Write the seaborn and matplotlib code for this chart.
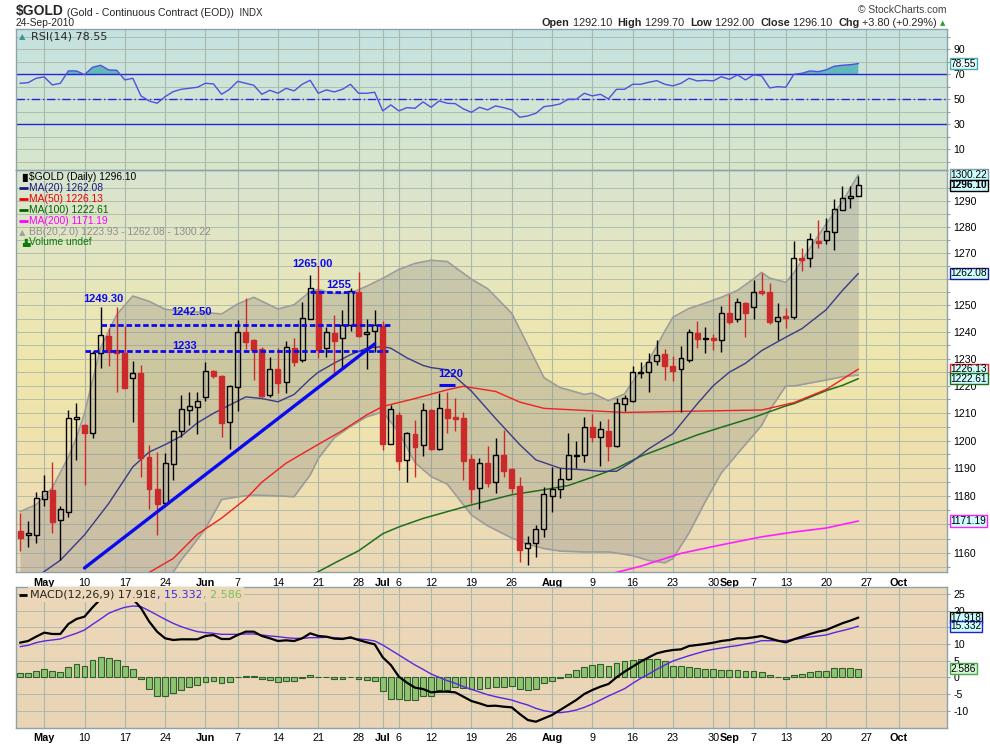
import numpy as np
import pandas as pd
import matplotlib
matplotlib.use("Agg")
import matplotlib.pyplot as plt
import matplotlib.transforms as mtrans
from matplotlib.colors import LinearSegmentedColormap
from matplotlib.ticker import FixedLocator, FuncFormatter, NullFormatter
import seaborn as sns

# ---------------- data ----------------
first_day, axis_end = "2010-04-28", "2010-10-01"
holidays = ["2010-05-31", "2010-07-05", "2010-09-06"]

opens = [1167.6, 1166.1, 1166.4, 1179.0, 1182.1, 1171.4, 1174.5, 1207.9, 1205.6, 1202.8,
         1232.2, 1238.4, 1233.2, 1232.0, 1223.0, 1224.8, 1193.9, 1182.5, 1177.4, 1191.4,
         1203.5, 1211.1, 1212.2, 1215.7, 1225.4, 1223.6, 1206.8, 1219.4, 1240.0, 1236.9,
         1233.5, 1216.6, 1226.2, 1221.2, 1233.9, 1229.5, 1244.8, 1255.5, 1233.9, 1239.5,
         1237.6, 1242.6, 1255.1, 1239.2, 1240.3, 1242.3, 1198.9, 1209.3, 1192.9, 1202.2,
         1198.3, 1211.1, 1196.9, 1211.6, 1208.4, 1208.0, 1193.3, 1183.0, 1191.7, 1185.2,
         1194.7, 1189.7, 1183.6, 1161.8, 1163.3, 1168.2, 1180.1, 1182.5, 1186.0, 1194.5,
         1194.7, 1204.8, 1201.4, 1203.5, 1198.1, 1213.2, 1214.5, 1224.6, 1224.9, 1229.2,
         1231.7, 1227.3, 1226.0, 1229.7, 1239.5, 1237.4, 1237.6, 1237.0, 1247.0, 1244.7,
         1251.0, 1249.5, 1255.4, 1254.9, 1244.1, 1245.8, 1245.5, 1267.8, 1267.8, 1274.6,
         1274.8, 1277.9, 1286.6, 1291.0, 1292.1]
highs = [1174.1, 1171.2, 1181.5, 1187.4, 1192.3, 1176.5, 1211.1, 1213.5, 1206.0, 1232.9,
         1249.3, 1241.3, 1249.2, 1242.2, 1229.1, 1227.7, 1198.3, 1195.9, 1195.4, 1203.8,
         1216.6, 1217.8, 1217.8, 1228.9, 1225.7, 1224.0, 1220.3, 1244.4, 1252.6, 1237.3,
         1234.5, 1230.7, 1234.1, 1236.7, 1237.6, 1251.4, 1261.4, 1265.0, 1241.7, 1246.3,
         1248.3, 1256.4, 1262.8, 1244.8, 1248.1, 1244.1, 1212.9, 1210.5, 1203.2, 1207.4,
         1213.6, 1211.3, 1217.4, 1217.8, 1215.4, 1210.5, 1195.0, 1193.5, 1198.0, 1200.8,
         1203.8, 1190.0, 1186.9, 1166.0, 1169.8, 1183.4, 1190.5, 1190.2, 1202.8, 1199.9,
         1208.6, 1209.5, 1207.1, 1207.7, 1215.4, 1216.6, 1227.3, 1228.7, 1232.0, 1236.9,
         1233.6, 1231.1, 1234.8, 1241.1, 1244.0, 1241.7, 1239.1, 1249.9, 1254.1, 1252.6,
         1251.4, 1259.6, 1262.1, 1258.6, 1250.8, 1248.9, 1274.4, 1271.9, 1277.4, 1282.6,
         1283.2, 1290.7, 1295.9, 1295.9, 1299.7]
lows = [1160.6, 1162.1, 1163.5, 1176.6, 1167.0, 1157.4, 1172.7, 1192.9, 1184.0, 1201.0,
        1226.7, 1227.3, 1217.8, 1219.3, 1206.8, 1186.9, 1175.6, 1166.4, 1177.1, 1185.7,
        1201.4, 1205.8, 1202.2, 1214.4, 1222.7, 1201.4, 1197.1, 1210.7, 1233.5, 1222.1,
        1215.7, 1215.7, 1217.2, 1217.4, 1227.3, 1228.9, 1244.8, 1230.3, 1230.7, 1224.6,
        1227.0, 1240.3, 1238.2, 1226.2, 1232.6, 1196.5, 1198.6, 1189.3, 1184.9, 1186.9,
        1194.5, 1196.5, 1196.5, 1202.6, 1203.4, 1185.7, 1177.4, 1175.6, 1183.4, 1181.0,
        1186.9, 1181.0, 1156.9, 1155.7, 1158.6, 1165.6, 1174.5, 1179.4, 1185.7, 1190.2,
        1192.3, 1199.4, 1190.9, 1192.7, 1197.5, 1210.7, 1214.1, 1222.7, 1217.8, 1227.7,
        1222.3, 1221.7, 1210.2, 1228.9, 1234.1, 1232.0, 1233.2, 1232.6, 1242.8, 1243.8,
        1237.9, 1244.7, 1253.9, 1242.8, 1237.0, 1241.3, 1244.8, 1263.0, 1264.7, 1271.9,
        1273.3, 1271.1, 1286.6, 1287.1, 1292.0]
closes = [1165.3, 1166.8, 1179.3, 1181.8, 1170.9, 1175.4, 1208.0, 1208.4, 1202.6, 1232.2,
          1238.7, 1232.5, 1232.2, 1219.3, 1224.8, 1193.5, 1182.5, 1177.1, 1191.7, 1203.5,
          1211.3, 1212.4, 1214.4, 1225.4, 1223.5, 1206.5, 1220.0, 1240.1, 1236.3, 1233.2,
          1216.3, 1226.2, 1221.1, 1234.2, 1228.9, 1245.1, 1256.4, 1233.2, 1239.8, 1236.7,
          1242.6, 1255.5, 1238.6, 1240.1, 1242.6, 1198.6, 1211.3, 1192.6, 1202.6, 1197.7,
          1211.1, 1196.9, 1211.9, 1208.2, 1207.8, 1192.7, 1182.5, 1191.7, 1184.8, 1194.7,
          1189.0, 1183.0, 1160.9, 1163.3, 1168.2, 1180.6, 1182.4, 1186.0, 1194.7, 1194.8,
          1205.0, 1201.1, 1204.2, 1198.1, 1213.8, 1215.4, 1224.9, 1225.0, 1228.9, 1231.4,
          1227.4, 1225.5, 1230.1, 1239.8, 1237.2, 1237.6, 1236.9, 1247.0, 1243.8, 1251.1,
          1247.0, 1255.1, 1254.8, 1243.6, 1245.7, 1245.1, 1267.8, 1267.2, 1275.1, 1273.9,
          1278.4, 1287.0, 1291.0, 1292.1, 1296.1]

rsi = [62.8, 63.3, 66.8, 67.9, 61.5, 62.8, 72.7, 72.7, 69.7, 75.6,
       77.2, 73.5, 73.2, 65.5, 66.8, 52.7, 48.7, 46.8, 52.1, 56.1,
       58.0, 58.8, 59.6, 62.8, 62.3, 54.0, 58.0, 64.4, 62.8, 61.2,
       54.0, 57.2, 54.8, 58.8, 56.7, 62.0, 65.2, 54.8, 57.5, 55.9,
       58.0, 62.0, 54.8, 54.8, 55.6, 40.7, 45.5, 40.7, 43.3, 42.8,
       47.9, 43.6, 48.7, 46.8, 46.5, 42.3, 39.6, 43.6, 41.5, 44.7,
       43.3, 41.5, 35.6, 36.7, 38.8, 44.1, 44.9, 46.3, 50.0, 50.0,
       54.8, 52.7, 54.0, 50.3, 58.0, 58.0, 62.0, 62.0, 63.6, 64.9,
       62.0, 60.7, 62.8, 66.8, 64.7, 65.2, 64.7, 68.1, 66.0, 69.5,
       65.5, 69.5, 68.7, 59.1, 60.1, 59.6, 70.0, 70.8, 72.7, 72.1,
       73.5, 76.4, 77.2, 77.7, 78.55]

macd = [10.4, 10.9, 12.2, 13.4, 13.0, 13.0, 16.0, 17.5, 18.2, 21.0,
        23.5, 24.9, 25.4, 24.3, 23.5, 20.8, 16.8, 13.7, 11.7, 11.2,
        11.4, 11.4, 11.4, 12.4, 12.7, 11.5, 11.5, 12.7, 13.7, 13.7,
        12.4, 11.7, 10.9, 11.1, 10.9, 11.7, 13.2, 12.4, 12.2, 11.6,
        11.5, 12.0, 11.2, 10.5, 9.9, 6.0, 3.7, 0.2, -1.6, -3.1,
        -3.5, -4.5, -4.3, -4.3, -4.5, -5.8, -7.1, -7.8, -8.6, -8.5,
        -8.8, -9.0, -11.0, -12.8, -13.3, -12.3, -11.3, -9.8, -8.3, -6.8,
        -5.0, -3.8, -2.8, -2.0, 0.0, 1.7, 3.2, 4.7, 6.0, 7.2,
        7.8, 8.2, 8.4, 9.4, 9.7, 10.0, 10.4, 10.9, 11.2, 11.7,
        11.7, 12.0, 12.4, 11.7, 11.0, 10.5, 11.4, 12.2, 13.0, 13.7,
        14.2, 15.2, 16.2, 17.0, 17.918]
signal = [9.2, 9.6, 10.4, 10.9, 11.2, 11.5, 12.4, 13.2, 14.2, 15.9,
          17.5, 19.2, 20.2, 21.0, 21.4, 21.2, 20.0, 18.7, 17.4, 16.2,
          15.2, 14.4, 13.7, 13.4, 13.2, 12.9, 12.9, 12.9, 13.0, 13.0,
          12.7, 12.4, 12.2, 11.9, 11.7, 11.7, 11.9, 11.9, 12.0, 11.9,
          11.7, 11.7, 11.5, 11.3, 10.9, 9.7, 8.2, 6.7, 5.2, 3.7,
          2.4, 1.0, 0.0, -1.0, -1.8, -2.8, -3.6, -4.4, -5.2, -5.8,
          -6.3, -6.8, -7.6, -8.3, -9.3, -10.0, -10.4, -10.6, -10.3, -9.8,
          -9.0, -8.0, -6.8, -5.6, -4.5, -3.4, -1.8, -0.3, 1.0, 2.4,
          3.7, 4.9, 5.7, 6.5, 7.2, 7.9, 8.4, 8.8, 9.2, 9.5,
          10.0, 10.4, 11.0, 11.0, 11.0, 11.0, 11.4, 11.7, 12.1, 12.4,
          12.7, 13.4, 14.0, 14.6, 15.332]
hist = [1.2, 1.2, 1.9, 2.4, 1.9, 1.5, 3.0, 3.9, 3.5, 5.2,
        6.0, 5.7, 5.2, 3.3, 2.4, -0.6, -3.6, -5.6, -5.6, -4.8,
        -3.8, -3.0, -2.4, -1.5, -1.0, -1.8, -1.5, 0.0, 0.5, 0.5,
        -0.6, -0.8, -1.3, -1.0, -1.0, -0.3, 0.8, 0.0, 0.0, -0.5,
        -0.5, 0.2, -0.5, -0.8, -1.1, -4.1, -6.5, -6.6, -6.8, -6.8,
        -5.6, -5.6, -3.8, -3.8, -2.8, -3.3, -3.6, -3.6, -3.3, -2.8,
        -3.0, -2.6, -3.5, -3.8, -3.5, -1.8, -1.1, -0.1, 1.0, 2.2,
        3.2, 3.6, 4.1, 3.5, 4.2, 5.0, 5.2, 5.4, 5.4, 5.5,
        4.8, 3.5, 3.5, 3.2, 2.7, 2.4, 2.4, 2.2, 2.2, 2.2,
        1.9, 1.9, 1.5, 0.6, 0.2, -0.6, 0.6, 0.9, 1.6, 1.9,
        1.9, 2.7, 2.7, 2.7, 2.586]

# overlays, sampled at trading-day numbers (0 = 28 Apr)
ma20_day = [0, 2, 5, 8, 11, 14, 16, 18, 20, 22, 24, 26, 28, 30, 32, 34, 36, 37, 39, 41,
            43, 45, 46, 48, 50, 51, 53, 56, 59, 62, 64, 67, 70, 72, 74, 76, 78, 81, 84, 86,
            88, 90, 92, 95, 97, 100, 102, 104]
ma20 = [1146.0, 1151.5, 1157.4, 1166.3, 1177.4, 1190.5, 1195.8, 1198.5, 1201.6, 1206.4,
        1209.9, 1212.9, 1215.9, 1215.3, 1214.1, 1216.8, 1222.5, 1225.0, 1228.4, 1231.5,
        1233.9, 1234.5, 1233.9, 1230.3, 1227.5, 1226.7, 1225.9, 1218.0, 1208.0, 1198.5,
        1193.0, 1190.0, 1189.4, 1188.9, 1188.9, 1192.5, 1197.0, 1202.5, 1213.3, 1220.0,
        1225.0, 1228.3, 1233.0, 1238.0, 1241.2, 1248.3, 1255.5, 1262.08]
ma50_day = [13, 15, 19, 22, 25, 28, 30, 33, 37, 40, 43, 45, 49, 53, 55, 59, 62, 65, 69,
            75, 80, 84, 88, 92, 96, 100, 104]
ma50 = [1147.5, 1151.5, 1158.0, 1166.5, 1172.2, 1179.0, 1185.0, 1191.8, 1198.6, 1203.6,
        1209.3, 1212.4, 1215.3, 1218.5, 1219.8, 1217.9, 1214.0, 1211.7, 1211.1, 1210.2,
        1210.5, 1210.7, 1210.9, 1211.1, 1213.8, 1218.6, 1226.13]
ma100_day = [35, 37, 39, 42, 45, 47, 50, 53, 56, 61, 65, 68, 71, 74, 77, 81, 84, 87, 91,
             93, 95, 96, 100, 102, 104]
ma100 = [1151.0, 1153.4, 1156.4, 1160.7, 1166.7, 1169.1, 1172.1, 1174.5, 1176.9, 1180.5,
         1182.3, 1183.8, 1186.8, 1190.0, 1194.3, 1198.7, 1202.0, 1204.8, 1208.4, 1210.5,
         1212.6, 1213.4, 1218.2, 1220.1, 1222.61]
ma200_day = [72, 74, 77, 82, 87, 92, 96, 100, 104]
ma200 = [1151.5, 1153.2, 1155.3, 1159.8, 1162.8, 1165.6, 1167.3, 1168.7, 1171.19]

bb_day = [0, 2, 4, 6, 7, 8, 10, 12, 14, 16, 18, 20, 21, 23, 25, 27, 29, 32, 34, 36, 37,
          39, 41, 43, 45, 47, 49, 51, 53, 56, 58, 61, 63, 65, 67, 68, 70, 71, 73, 75, 76,
          78, 80, 81, 83, 85, 87, 89, 91, 92, 93, 95, 96, 98, 100, 102, 104]
bb_upper = [1174.5, 1177.0, 1183.0, 1194.0, 1201.0, 1210.0, 1234.0, 1246.5, 1253.5, 1251.5,
            1248.5, 1247.8, 1247.6, 1247.3, 1246.7, 1250.5, 1253.0, 1248.6, 1250.2, 1255.2,
            1256.0, 1254.4, 1254.6, 1257.2, 1260.2, 1263.6, 1265.9, 1267.1, 1266.6, 1259.9,
            1256.3, 1247.0, 1235.0, 1223.0, 1219.3, 1218.5, 1216.8, 1217.3, 1214.5, 1217.0,
            1221.5, 1229.3, 1240.3, 1245.5, 1248.8, 1250.8, 1253.0, 1255.6, 1260.0, 1262.5,
            1260.3, 1258.7, 1262.3, 1271.7, 1281.0, 1289.6, 1300.22]
bb_lower = [1128.0, 1129.0, 1130.0, 1128.0, 1127.0, 1126.0, 1125.0, 1127.0, 1133.0, 1141.0,
            1149.0, 1157.5, 1161.0, 1168.5, 1178.8, 1179.8, 1180.4, 1180.1, 1179.8, 1187.6,
            1193.5, 1201.0, 1205.1, 1208.6, 1210.4, 1203.0, 1192.0, 1187.0, 1184.3, 1173.3,
            1169.5, 1165.2, 1163.0, 1161.5, 1160.6, 1160.5, 1160.3, 1160.3, 1160.3, 1159.5,
            1159.0, 1157.3, 1156.5, 1158.0, 1167.0, 1178.0, 1188.3, 1195.2, 1202.0, 1205.5,
            1211.0, 1219.9, 1219.9, 1221.0, 1222.1, 1223.3, 1223.93]

tick_dates = ["2010-05-03", "2010-05-10", "2010-05-17", "2010-05-24", "2010-06-01",
              "2010-06-07", "2010-06-14", "2010-06-21", "2010-06-28", "2010-07-01",
              "2010-07-06", "2010-07-12", "2010-07-19", "2010-07-26", "2010-08-02",
              "2010-08-09", "2010-08-16", "2010-08-23", "2010-08-30", "2010-09-01",
              "2010-09-07", "2010-09-13", "2010-09-20", "2010-09-27", "2010-10-01"]
tick_labels = ["May", "10", "17", "24", "Jun", "7", "14", "21", "28", "Jul", "6", "12",
               "19", "26", "Aug", "9", "16", "23", "30", "Sep", "7", "13", "20", "27", "Oct"]
month_names = {"May", "Jun", "Jul", "Aug", "Sep", "Oct"}

price_ticks = [1160, 1180, 1190, 1200, 1210, 1220, 1230, 1240, 1250, 1270, 1280, 1290]
rsi_ticks = [10, 30, 50, 70, 90]
macd_ticks = [-10, -5, 0, 5, 10, 20, 25]

# hand-drawn support/resistance marks: (level, from day, to day)
dashed_levels = [(1242.5, 10, 46), (1233.0, 8, 45.6), (1255.0, 36, 41.6)]
level_notes = [("1249.30", 10.3, 1252.3), ("1242.50", 21.3, 1247.6), ("1233", 20.4, 1234.7),
               ("1265.00", 36.3, 1265.6), ("1255", 39.5, 1257.8), ("1220", 53.4, 1224.4)]
trend_day = [8, 44]
trend_val = [1154.7, 1235.5]

# ---------------- layout ----------------
days = pd.bdate_range(first_day, axis_end)
days = days[~days.isin(pd.to_datetime(holidays))]
day_no = {d.strftime("%Y-%m-%d"): i for i, d in enumerate(days)}
tick_pos = [day_no[d] for d in tick_dates]
x = np.arange(len(closes))

sns.set_theme(style="white")
plt.rcParams["font.family"] = ["Liberation Sans", "DejaVu Sans"]

fig = plt.figure(figsize=(9.9, 7.44), dpi=100)
W, H = 990, 744
GRID = "#a8b8aa"
EDGE = "#8ea2a8"


def rect(top, bottom):
    return [16 / W, 1 - bottom / H, 931 / W, (bottom - top) / H]


def panel(r, colors, labels=True):
    bg = fig.add_axes(r, zorder=0)
    cmap = LinearSegmentedColormap.from_list("bg", colors)
    bg.imshow(np.linspace(0, 1, 256)[:, None], cmap=cmap, aspect="auto", extent=(0, 1, 0, 1))
    bg.set_axis_off()
    ax = fig.add_axes(r, zorder=1)
    ax.set_facecolor("none")
    for s in ax.spines.values():
        s.set_color(EDGE)
        s.set_linewidth(1.0)
    ax.set_xlim(-0.5, 115)
    ax.xaxis.set_major_locator(FixedLocator(tick_pos))
    ax.xaxis.set_minor_locator(FixedLocator(range(len(days))))
    ax.set_xticklabels(tick_labels if labels else [])
    for t in ax.get_xticklabels():
        if t.get_text() in month_names:
            t.set_fontweight("bold")
    ax.grid(axis="x", which="major", color=GRID, lw=0.8)
    ax.grid(axis="y", which="both", color=GRID, lw=0.6)
    ax.yaxis.tick_right()
    ax.tick_params(axis="both", which="both", direction="out", colors=EDGE,
                   labelcolor="black", labelsize=7.6, length=2.5, width=0.8, pad=2)
    ax.tick_params(axis="x", which="major", labelbottom=labels, labelsize=7.8, pad=1.5)
    return ax


def tag(ax, y, text, edge, face="#ccfcfc", bold=False):
    tr = mtrans.blended_transform_factory(ax.transAxes, ax.transData)
    ax.text(1.004, y, text, transform=tr, ha="left", va="center", fontsize=7.3,
            fontweight="bold" if bold else "normal", color="black", zorder=10, clip_on=False,
            bbox=dict(boxstyle="square,pad=0.06", fc=face, ec=edge, lw=1))


def right_labels(ax, ticks, grid_ticks):
    ax.yaxis.set_major_locator(FixedLocator(grid_ticks))
    ax.yaxis.set_major_formatter(FuncFormatter(lambda v, p: f"{v:.0f}" if v in ticks else ""))


# ---------------- RSI ----------------
ax_rsi = panel(rect(29.3, 170), ["#c4e2e1", "#d0e5d6", "#d8e6cb"], labels=False)
ax_rsi.set_ylim(-6.6, 106)
ax_rsi.yaxis.set_major_locator(FixedLocator(rsi_ticks))
ax_rsi.yaxis.set_minor_locator(FixedLocator([0, 20, 40, 60, 80, 100]))
rsi_arr = np.array(rsi)
ax_rsi.fill_between(x, rsi_arr, 70, where=rsi_arr > 70, interpolate=True,
                    color="#62b9b9", lw=0, zorder=2)
for lev in (70, 30):
    ax_rsi.axhline(lev, color="#2424d8", lw=1.0, zorder=2)
ax_rsi.axhline(50, color="#2424d8", lw=1.0, ls=(0, (6, 2, 1, 2)), zorder=2)
sns.lineplot(x=x, y=rsi, ax=ax_rsi, color="#5050dc", linewidth=1.0, zorder=3)
ax_rsi.set(xlabel="", ylabel="")
ax_rsi.text(0.016, 0.952, "RSI(14) 78.55", transform=ax_rsi.transAxes, fontsize=8,
            va="center", ha="left", family=["DejaVu Sans"])
ax_rsi.text(0.0035, 0.952, "\u25b2", transform=ax_rsi.transAxes, fontsize=6,
            va="center", ha="left", color="#3a9a9a", family=["DejaVu Sans"])
tag(ax_rsi, 78.55, "78.55", "#3fb0b0", face="#e8fafa")

# ---------------- price ----------------
ax_px = panel(rect(170, 572), ["#d8e4d0", "#e6e6bf", "#f0e6aa", "#efe0b0", "#ebd8b8"])
ax_px.set_yscale("log")
ax_px.set_ylim(1153.3, 1302.1)
right_labels(ax_px, price_ticks, list(range(1160, 1300, 10)))
ax_px.yaxis.set_minor_locator(FixedLocator(list(range(1155, 1305, 10))))
ax_px.yaxis.set_minor_formatter(NullFormatter())

ax_px.fill_between(bb_day, bb_lower, bb_upper, color="#8a8a8a", alpha=0.33, lw=0, zorder=2)
for band in (bb_upper, bb_lower):
    sns.lineplot(x=bb_day, y=band, ax=ax_px, color="#9c9c9c", linewidth=1.2, zorder=2.5)
sns.lineplot(x=ma200_day, y=ma200, ax=ax_px, color="#ff20ff", linewidth=1.2, zorder=3)
sns.lineplot(x=ma100_day, y=ma100, ax=ax_px, color="#1e6e1e", linewidth=1.1, zorder=3)
sns.lineplot(x=ma50_day, y=ma50, ax=ax_px, color="#ee2020", linewidth=1.0, zorder=3)
sns.lineplot(x=ma20_day, y=ma20, ax=ax_px, color="#3a3a88", linewidth=1.0, zorder=3)
ax_px.set(xlabel="", ylabel="")

for i in x:
    o, h, l, c = opens[i], highs[i], lows[i], closes[i]
    up = c >= o
    col = "black" if up else "#cc2a2a"
    top, bot = max(o, c), min(o, c)
    ax_px.vlines(i, top, h, color=col, lw=1.0, zorder=4)
    ax_px.vlines(i, l, bot, color=col, lw=1.0, zorder=4)
    ax_px.bar(i, max(top - bot, 0.25), bottom=bot, width=0.62,
              facecolor="none" if up else "#cc2a2a", edgecolor=col, lw=1.0, zorder=5)

# drawn trend / level marks
BLUE = "#0a0aee"
sns.lineplot(x=trend_day, y=trend_val, ax=ax_px, color=BLUE, linewidth=2.4, zorder=6)
ax_px.set(xlabel="", ylabel="")
for lev, d0, d1 in dashed_levels:
    ax_px.hlines(lev, d0, d1, colors=BLUE, lw=2.0, linestyles=(0, (2, 1)), zorder=6)
ax_px.hlines(1220.3, 52, 54, colors=BLUE, lw=2.2, zorder=6)
for txt, d, v in level_notes:
    ax_px.text(d, v, txt, color=BLUE, fontsize=8, fontweight="bold", ha="center",
               va="center", zorder=7)

legend_rows = [("$GOLD (Daily) 1296.10", "black"), ("MA(20) 1262.08", "#1a1a80"),
               ("MA(50) 1226.13", "#ee0000"), ("MA(100) 1222.61", "#006400"),
               ("MA(200) 1171.19", "#ff00ff"),
               ("BB(20,2.0) 1223.93 - 1262.08 - 1300.22", "#8e8e8e"),
               ("Volume undef", "#0a7a0a")]
for j, (txt, col) in enumerate(legend_rows):
    yy = 1 - (7.3 + 11 * j - (1 if j == 6 else 0)) / 402
    ax_px.text(0.0145, yy, txt, transform=ax_px.transAxes, fontsize=7.4, color=col,
               va="center", ha="left", zorder=8)
    if j in (1, 2, 3, 4):
        ax_px.plot([0.0035, 0.0125], [yy, yy], transform=ax_px.transAxes, color=col,
                   lw=2, solid_capstyle="butt", zorder=8)
    elif j == 5:
        ax_px.text(0.003, yy, "\u25b2", transform=ax_px.transAxes, fontsize=6,
                   color="#a0a0a0", va="center", ha="left", family=["DejaVu Sans"])
    else:
        ax_px.text(0.003, yy, "\u2590\u258c" if j == 0 else "\u2597\u2599",
                   transform=ax_px.transAxes, fontsize=5.5, color=col, va="center",
                   ha="left", family=["DejaVu Sans"])

tag(ax_px, 1300.22, "1300.22", "#7f9aa6")
tag(ax_px, 1296.10, "1296.10", "black", bold=True)
tag(ax_px, 1262.08, "1262.08", "#1a1a90")
tag(ax_px, 1226.13, "1226.13", "#ee2020")
tag(ax_px, 1222.61, "1222.61", "#1e6e1e")
tag(ax_px, 1171.19, "1171.19", "#ff20ff")

# ---------------- MACD ----------------
ax_m = panel(rect(587.3, 727.7), ["#ecd8b9", "#ead4b6"])
ax_m.set_ylim(-15.1, 27.0)
right_labels(ax_m, macd_ticks, [-10, -5, 0, 5, 10, 15, 20, 25])
ax_m.bar(x, hist, width=0.72, color="#8ec470", edgecolor="#2f5f2f", lw=0.8, zorder=3)
sns.lineplot(x=x, y=signal, ax=ax_m, color="#5a26e0", linewidth=1.0, zorder=4)
sns.lineplot(x=x, y=macd, ax=ax_m, color="black", linewidth=1.6, zorder=5)
ax_m.set(xlabel="", ylabel="")

bgc = "#ecd8b9"
t = ax_m.text(0.0155, 0.948, "MACD(12,26,9) 17.918", transform=ax_m.transAxes, fontsize=8,
              va="center", ha="left", family=["DejaVu Sans"], zorder=9,
              bbox=dict(fc=bgc, ec="none", pad=1.5))
t2 = ax_m.annotate(", 15.332", xy=(1, 0), xycoords=t, va="bottom", ha="left", fontsize=8,
                   color="#3030e0", family=["DejaVu Sans"], zorder=9,
                   bbox=dict(fc=bgc, ec="none", pad=1.5))
ax_m.annotate(", 2.586", xy=(1, 0), xycoords=t2, va="bottom", ha="left", fontsize=8,
              color="#7ac05a", family=["DejaVu Sans"], zorder=9,
              bbox=dict(fc=bgc, ec="none", pad=1.5))
ax_m.plot([0.0035, 0.0115], [0.948, 0.948], transform=ax_m.transAxes, color="black",
          lw=2, solid_capstyle="butt", zorder=9)
tag(ax_m, 17.918, "17.918", "black")
tag(ax_m, 15.332, "15.332", "#2020d0")
tag(ax_m, 2.586, "2.586", "#4caa4c", face="#d4f6d4")

# ---------------- header ----------------
title = fig.text(16 / W, 1 - 11.5 / H, "$GOLD", fontsize=10, fontweight="bold", va="center")
sub = ax_rsi.annotate(" (Gold - Continuous Contract (EOD))", xy=(1, 0), xycoords=title,
                      va="bottom", ha="left", fontsize=7.6, annotation_clip=False)
ax_rsi.annotate("  INDX", xy=(1, 0), xycoords=sub, va="bottom", ha="left", fontsize=7.0,
                annotation_clip=False)
fig.text(16 / W, 1 - 23.5 / H, "24-Sep-2010", fontsize=7.4, va="center")
fig.text(946 / W, 1 - 10 / H, "\u00a9 StockCharts.com", fontsize=7.4, va="center",
         ha="right", color="#404040")

header = [("Open", "bold"), (" 1292.10  ", "normal"), ("High", "bold"), (" 1299.70  ", "normal"),
          ("Low", "bold"), (" 1292.00  ", "normal"), ("Close", "bold"), (" 1296.10  ", "normal"),
          ("Chg", "bold"), (" +3.80 (+0.29%)", "normal")]
prev = fig.text(937 / W, 1 - 23.5 / H, header[-1][0], fontsize=7.8, va="center", ha="right")
for s, w in reversed(header[:-1]):
    prev = ax_rsi.annotate(s, xy=(0, 0), xycoords=prev, va="bottom", ha="right",
                           fontsize=7.8, fontweight=w, annotation_clip=False)
fig.text(940 / W, 1 - 23.5 / H, "\u25b2", fontsize=5, color="#2e9e2e", va="center",
         ha="left", family=["DejaVu Sans"])

fig.savefig("out.png", dpi=100)
